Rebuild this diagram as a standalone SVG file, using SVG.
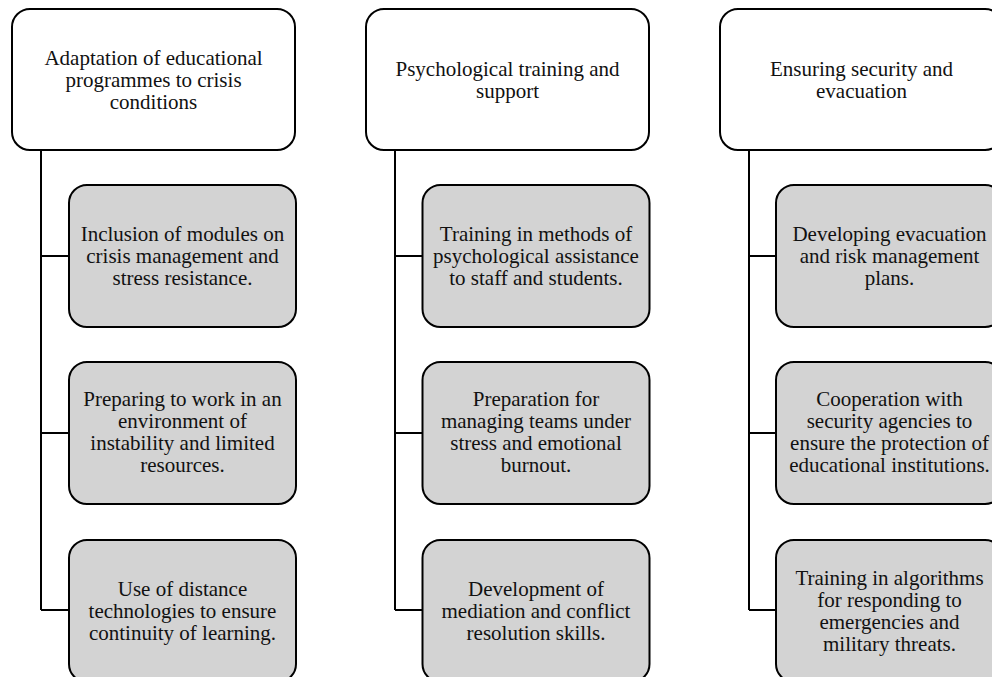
<svg xmlns="http://www.w3.org/2000/svg" width="992" height="677" viewBox="0 0 992 677">
<style>
.top{fill:#ffffff;stroke:#000;stroke-width:2}
.sub{fill:#d3d3d3;stroke:#000;stroke-width:2}
.ln{fill:none;stroke:#000;stroke-width:2}
text{font-family:"Liberation Serif","Times New Roman",serif;font-size:21px;fill:#111;text-anchor:middle}
</style>
<rect width="992" height="677" fill="#fff"/>
<g id="connectors">
<path class="ln" d="M41,150 V610 M41,256 H69 M41,433 H69 M41,610 H69"/>
<path class="ln" d="M395,150 V610 M395,256 H422.5 M395,433 H422.5 M395,610 H422.5"/>
<path class="ln" d="M749,150 V610 M749,256 H776 M749,433 H776 M749,610 H776"/>
</g>
<g id="n1">
<rect class="top" x="12" y="9" width="283" height="141" rx="18"/>
<text x="153.5" y="64.5">Adaptation of educational</text>
<text x="153.5" y="86.5">programmes to crisis</text>
<text x="153.5" y="108.5">conditions</text>
</g>
<g id="n1a">
<rect class="sub" x="69" y="185" width="227" height="142" rx="18"/>
<text x="182.5" y="241">Inclusion of modules on</text>
<text x="182.5" y="263">crisis management and</text>
<text x="182.5" y="285">stress resistance.</text>
</g>
<g id="n1b">
<rect class="sub" x="69" y="362" width="227" height="142" rx="18"/>
<text x="182.5" y="406">Preparing to work in an</text>
<text x="182.5" y="428">environment of</text>
<text x="182.5" y="450">instability and limited</text>
<text x="182.5" y="472">resources.</text>
</g>
<g id="n1c">
<rect class="sub" x="69" y="540" width="227" height="142" rx="18"/>
<text x="182.5" y="596">Use of distance</text>
<text x="182.5" y="618">technologies to ensure</text>
<text x="182.5" y="640">continuity of learning.</text>
</g>
<g id="n2">
<rect class="top" x="366" y="9" width="283" height="141" rx="18"/>
<text x="507.5" y="75.5">Psychological training and</text>
<text x="507.5" y="97.5">support</text>
</g>
<g id="n2a">
<rect class="sub" x="422.5" y="185" width="227" height="142" rx="18"/>
<text x="536" y="241">Training in methods of</text>
<text x="536" y="263">psychological assistance</text>
<text x="536" y="285">to staff and students.</text>
</g>
<g id="n2b">
<rect class="sub" x="422.5" y="362" width="227" height="142" rx="18"/>
<text x="536" y="406">Preparation for</text>
<text x="536" y="428">managing teams under</text>
<text x="536" y="450">stress and emotional</text>
<text x="536" y="472">burnout.</text>
</g>
<g id="n2c">
<rect class="sub" x="422.5" y="540" width="227" height="142" rx="18"/>
<text x="536" y="596">Development of</text>
<text x="536" y="618">mediation and conflict</text>
<text x="536" y="640">resolution skills.</text>
</g>
<g id="n3">
<rect class="top" x="720" y="9" width="283" height="141" rx="18"/>
<text x="861.5" y="75.5">Ensuring security and</text>
<text x="861.5" y="97.5">evacuation</text>
</g>
<g id="n3a">
<rect class="sub" x="776" y="185" width="227" height="142" rx="18"/>
<text x="889.5" y="241">Developing evacuation</text>
<text x="889.5" y="263">and risk management</text>
<text x="889.5" y="285">plans.</text>
</g>
<g id="n3b">
<rect class="sub" x="776" y="362" width="227" height="142" rx="18"/>
<text x="889.5" y="406">Cooperation with</text>
<text x="889.5" y="428">security agencies to</text>
<text x="889.5" y="450">ensure the protection of</text>
<text x="889.5" y="472">educational institutions.</text>
</g>
<g id="n3c">
<rect class="sub" x="776" y="540" width="227" height="142" rx="18"/>
<text x="889.5" y="585">Training in algorithms</text>
<text x="889.5" y="607">for responding to</text>
<text x="889.5" y="629">emergencies and</text>
<text x="889.5" y="651">military threats.</text>
</g>
</svg>
